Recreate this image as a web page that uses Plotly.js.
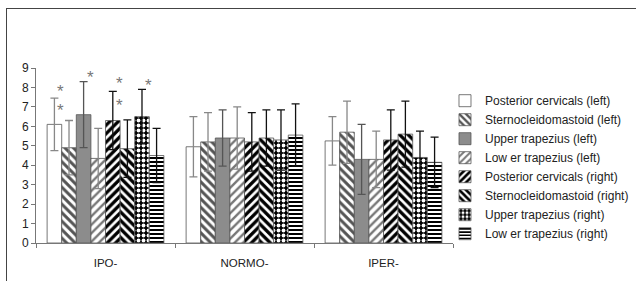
<!DOCTYPE html>
<html>
<head>
<meta charset="utf-8">
<script src="https://cdn.plot.ly/plotly-3.0.1.min.js"></script>
<style>
html,body{margin:0;padding:0;background:#fff;overflow:hidden;}
#wrap{position:relative;width:636px;height:281px;overflow:hidden;}
#chart{position:absolute;left:0;top:0;width:680px;height:281px;}
#frame{position:absolute;left:6px;top:8px;right:0;bottom:0;border-top:1px solid #444;border-left:1px solid #444;pointer-events:none;}
</style>
</head>
<body>
<div id="wrap"><div id="chart"></div><div id="frame"></div></div>
<script>
const categories = ["IPO-", "NORMO-", "IPER-"];
const seriesNames = [
  "Posterior cervicals (left)",
  "Sternocleidomastoid (left)",
  "Upper trapezius (left)",
  "Low er trapezius (left)",
  "Posterior cervicals (right)",
  "Sternocleidomastoid (right)",
  "Upper trapezius (right)",
  "Low er trapezius (right)"
];
// mean values per series, across categories
const postCervL = [6.1, 4.95, 5.25];
const scmL      = [4.9, 5.2, 5.7];
const upTrapL   = [6.6, 5.4, 4.3];
const lowTrapL  = [4.35, 5.4, 4.3];
const postCervR = [6.3, 5.2, 5.3];
const scmR      = [4.85, 5.4, 5.6];
const upTrapR   = [6.5, 5.3, 4.4];
const lowTrapR  = [4.5, 5.55, 4.15];
// error bar tops (mean + SD)
const postCervLTop = [7.45, 6.5, 6.5];
const scmLTop      = [6.3, 6.7, 7.3];
const upTrapLTop   = [8.3, 6.85, 6.1];
const lowTrapLTop  = [5.9, 7.0, 5.75];
const postCervRTop = [7.8, 6.7, 6.85];
const scmRTop      = [6.33, 6.85, 7.3];
const upTrapRTop   = [7.9, 6.85, 5.75];
const lowTrapRTop  = [5.9, 7.15, 5.45];
// asterisks: series index, category index, y positions
const starSeries = [0, 0, 2, 4, 4, 6];
const starCat    = [0, 0, 0, 0, 0, 0];
const starY      = [8.0, 7.0, 8.7, 8.4, 7.3, 8.3];

const means = [postCervL, scmL, upTrapL, lowTrapL, postCervR, scmR, upTrapR, lowTrapR];
const tops = [postCervLTop, scmLTop, upTrapLTop, lowTrapLTop, postCervRTop, scmRTop, upTrapRTop, lowTrapRTop];

const styles = [
  {color:"#ffffff", pattern:{shape:""}, err:"#888"},
  {color:"#ffffff", pattern:{shape:"\\", fgcolor:"#555", bgcolor:"#fff", size:6, solidity:0.5}, err:"#888"},
  {color:"#8c8c8c", pattern:{shape:""}, err:"#555"},
  {color:"#ffffff", pattern:{shape:"/", fgcolor:"#777", bgcolor:"#fff", size:6, solidity:0.4}, err:"#888"},
  {color:"#ffffff", pattern:{shape:"/", fgcolor:"#000", bgcolor:"#fff", size:6, solidity:0.55}, err:"#111"},
  {color:"#ffffff", pattern:{shape:"\\", fgcolor:"#000", bgcolor:"#fff", size:6, solidity:0.55}, err:"#111"},
  {color:"#000000", pattern:{shape:".", fgcolor:"#fff", bgcolor:"#000", size:5, solidity:0.45}, err:"#111"},
  {color:"#ffffff", pattern:{shape:"-", fgcolor:"#000", bgcolor:"#fff", size:4, solidity:0.5}, err:"#111"}
];

const traces = means.map((m, i) => ({
  type: "bar",
  name: seriesNames[i],
  x: categories,
  y: m,
  marker: {color: styles[i].color, pattern: styles[i].pattern, line: {color: "#555", width: 0.8}},
  error_y: {type: "data", array: m.map((v, j) => +(tops[i][j] - v).toFixed(3)), visible: true,
            color: styles[i].err, thickness: 1.3, width: 4}
}));

const bargap = 0.16;
const nS = means.length;
const barW = (1 - bargap) / nS;
const annotations = starY.map((y, k) => ({
  xref: "x", yref: "y",
  x: starCat[k] + (starSeries[k] - (nS - 1) / 2) * barW + barW * 0.45,
  y: y,
  text: "*", showarrow: false,
  font: {family: "Liberation Sans, Arial, sans-serif", size: 17, color: "#777"},
  yshift: -4
}));

const layout = {
  width: 680, height: 281,
  margin: {l: 36, r: 227, t: 68, b: 38},
  paper_bgcolor: "rgba(0,0,0,0)", plot_bgcolor: "rgba(0,0,0,0)",
  barmode: "group", bargap: bargap, bargroupgap: 0,
  font: {family: "Liberation Sans, Arial, sans-serif", size: 11, color: "#222"},
  showlegend: true,
  legend: {x: 0.9808, xanchor: "left", y: 0.896, yanchor: "top", font: {size: 12, color: "#222"},
           tracegroupgap: 0, itemwidth: 30, bgcolor: "rgba(0,0,0,0)"},
  xaxis: {type: "category", showline: true, linecolor: "#777", linewidth: 1, ticks: "outside",
          tickson: "boundaries", ticklen: 4, tickcolor: "#777", showgrid: false,
          ticklabelstandoff: 9, tickfont: {size: 11.5, color: "#222"}},
  yaxis: {range: [0, 9], dtick: 1, showline: true, linecolor: "#777", linewidth: 1,
          ticks: "outside", ticklen: 4, tickcolor: "#777", showgrid: false, zeroline: false,
          tickfont: {size: 12, color: "#222"}},
  annotations: annotations
};

Plotly.newPlot("chart", traces, layout, {displayModeBar: false, staticPlot: true});
</script>
</body>
</html>
